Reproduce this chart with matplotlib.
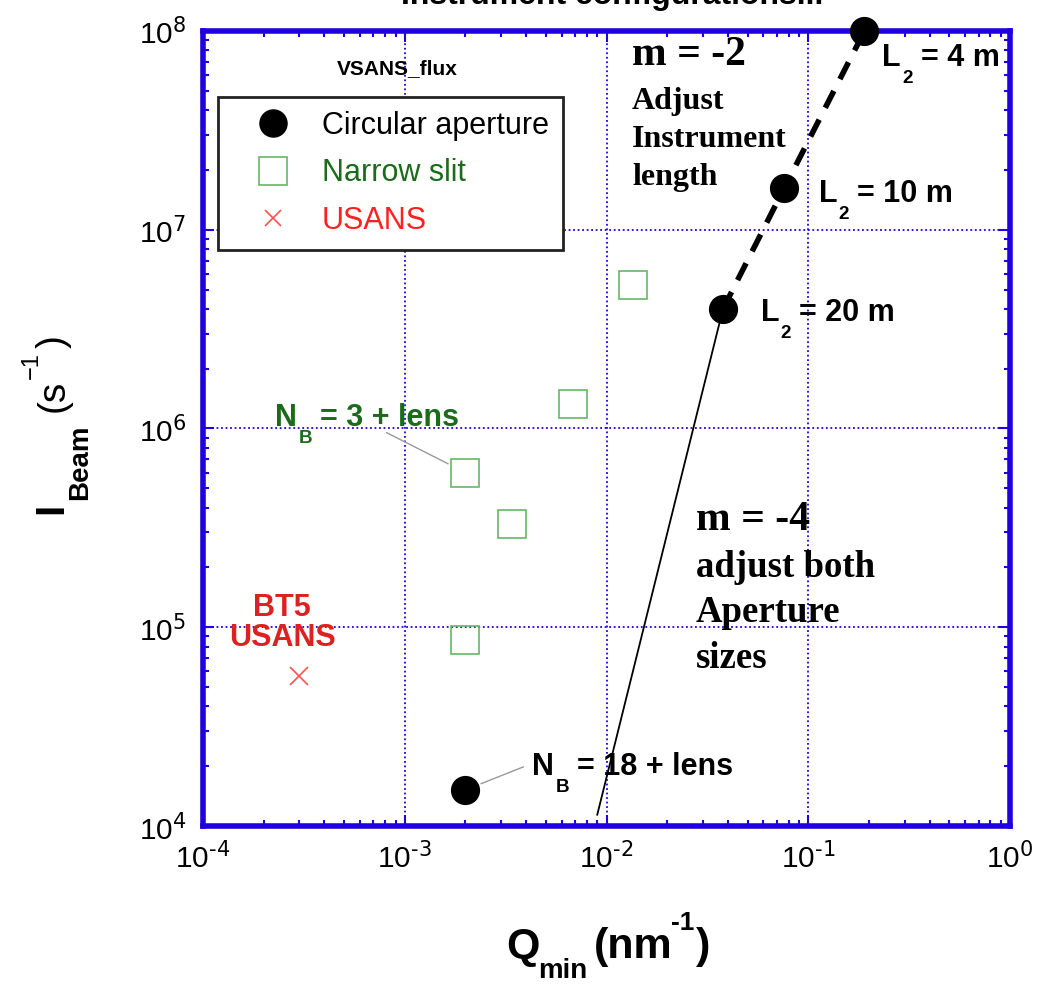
import math
import matplotlib
matplotlib.use("Agg")
import matplotlib.pyplot as plt
from matplotlib.lines import Line2D
from matplotlib.ticker import LogLocator, NullFormatter, FuncFormatter

plt.rcParams['font.family'] = ['Liberation Sans', 'DejaVu Sans']
plt.rcParams['mathtext.default'] = 'regular'

# circular aperture points (Q_min in nm^-1, I_beam in s^-1)
circ_q = [0.19, 0.076, 0.0378, 0.002]
circ_i = [1.0e8, 1.62e7, 4.0e6, 1.52e4]
# narrow slit points
slit_q = [0.0135, 0.0068, 0.002, 0.0034, 0.002]
slit_i = [5.3e6, 1.33e6, 6.0e5, 3.3e5, 8.6e4]
# USANS point
usans_q = [3.0e-4]
usans_i = [5.7e4]
# m = -2 guide (dashed) and m = -4 guide (solid)
m2_q = [0.0378, 0.076, 0.19]
m2_i = [4.0e6, 1.62e7, 1.0e8]
m4_q = [0.0378, 0.009]
m4_i = [4.0e6, 1.14e4]

BLUE = '#1f00e0'
GREEN = '#1a6b1a'
W, H = 1037, 988

fig = plt.figure(figsize=(W / 100, H / 100), dpi=100)
ax = fig.add_axes([203 / W, 1 - 826 / H, 807 / W, 795 / H])

ax.set_xscale('log')
ax.set_yscale('log')
ax.set_xlim(1e-4, 1)
ax.set_ylim(1e4, 1e8)

ax.grid(True, which='major', color=BLUE, linestyle=(0, (1, 1.5)), linewidth=1.3)

# guide lines
ax.plot(m4_q, m4_i, color='black', linewidth=1.3, zorder=3)
ax.plot(m2_q, m2_i, color='black', linewidth=4, linestyle=(0, (3.4, 2.4)), zorder=3)

ax.plot(slit_q, slit_i, linestyle='none', marker='s', markersize=19.5,
        markerfacecolor='none', markeredgecolor='#66b866', markeredgewidth=1.2, zorder=4)
ax.plot(usans_q, usans_i, linestyle='none', marker='x', markersize=13,
        color='#ff5050', markeredgewidth=1.2, zorder=4)
ax.plot(circ_q, circ_i, linestyle='none', marker='o', markersize=20,
        color='black', zorder=5, clip_on=False)

# spines and ticks
for sp in ax.spines.values():
    sp.set_color(BLUE)
    sp.set_linewidth(4)
ax.tick_params(which='both', direction='in', top=True, right=True, color=BLUE)
ax.tick_params(which='major', length=8, width=1.5, labelsize=21.5)
ax.tick_params(axis='x', which='major', pad=11)
ax.tick_params(axis='y', which='major', pad=12)
ax.tick_params(which='minor', length=4, width=1.5)
ax.xaxis.set_minor_locator(LogLocator(base=10, subs=range(2, 10)))
ax.yaxis.set_minor_locator(LogLocator(base=10, subs=range(2, 10)))
ax.xaxis.set_minor_formatter(NullFormatter())
ax.yaxis.set_minor_formatter(NullFormatter())
fmt = FuncFormatter(lambda v, p: r'10$^{\text{%d}}$' % round(math.log10(v)))
ax.xaxis.set_major_formatter(fmt)
ax.yaxis.set_major_formatter(fmt)
for lab in ax.get_xticklabels() + ax.get_yticklabels():
    lab.set_family(['Liberation Sans Narrow', 'Liberation Sans'])

# legend
handles = [
    Line2D([], [], linestyle='none', marker='o', markersize=19.5, color='black'),
    Line2D([], [], linestyle='none', marker='s', markersize=19.5, markerfacecolor='none',
           markeredgecolor='#66b866', markeredgewidth=1.2),
    Line2D([], [], linestyle='none', marker='x', markersize=12, color='#ff5050',
           markeredgewidth=1.2),
]
leg = ax.legend(handles, ['Circular aperture', 'Narrow slit', 'USANS'],
                loc='upper left', bbox_to_anchor=((218 - 203) / 807, (826 - 97) / 795),
                fontsize=22, labelcolor=['black', GREEN, '#ff2020'], frameon=True,
                fancybox=False, edgecolor='#222222', framealpha=1, handletextpad=0.25,
                borderpad=0.45, labelspacing=0.58, handlelength=2.7, borderaxespad=0)
leg.get_frame().set_linewidth(2)


def ax_px(x, y):
    return (x - 203) / 807, (826 - y) / 795


# free text notes
ax.text(*ax_px(337, 74), 'VSANS_flux', transform=ax.transAxes, fontsize=15,
        fontweight='bold', ha='left', va='baseline')
ax.text(*ax_px(632, 65), 'm = -2', transform=ax.transAxes, fontsize=30,
        fontweight='bold', family='Liberation Serif', ha='left', va='baseline')
ax.text(*ax_px(632, 87), 'Adjust\nInstrument\nlength', transform=ax.transAxes,
        fontsize=23, fontweight='bold', family='Liberation Serif', ha='left',
        va='top', linespacing=1.42)
ax.text(*ax_px(696, 530), 'm = -4', transform=ax.transAxes, fontsize=30,
        fontweight='bold', family='Liberation Serif', ha='left', va='baseline')
ax.text(*ax_px(696, 550), 'adjust both\nAperture\nsizes', transform=ax.transAxes,
        fontsize=26.5, fontweight='bold', family='Liberation Serif', ha='left',
        va='top', linespacing=1.38)


def sub_label(x, y, dx, dy, main, sub, rest, size=22, color='black', drop=17):
    """Main letter + strongly dropped subscript + rest, offset (pixels) from a data point."""
    kw = dict(fontweight='bold', color=color, textcoords='offset pixels', zorder=6)
    t1 = ax.annotate(main, xy=(x, y), xytext=(dx, -dy), ha='left', va='baseline',
                     fontsize=size, annotation_clip=False, **kw)
    t2 = ax.annotate(sub, xy=(1, 0), xycoords=t1, xytext=(1, -drop + 7), ha='left',
                     va='baseline', fontsize=size * 0.62, **kw)
    ax.annotate(rest, xy=(1, 0), xycoords=(t2, t1), xytext=(8, 0), ha='left',
                va='bottom', fontsize=size, **kw)


sub_label(circ_q[0], circ_i[0], 18, 35, 'L', '2', '= 4 m')
sub_label(circ_q[1], circ_i[1], 35, 14, 'L', '2', '= 10 m')
sub_label(circ_q[2], circ_i[2], 38, 12, 'L', '2', '= 20 m')
sub_label(slit_q[2], slit_i[2], -190, -47, 'N', 'B', '= 3 + lens', color=GREEN)
sub_label(circ_q[3], circ_i[3], 67, -15, 'N', 'B', '= 18 + lens')

# leader lines
ax.annotate('', xy=(slit_q[2], slit_i[2]), xytext=(-79, 40), textcoords='offset pixels',
            arrowprops=dict(arrowstyle='-', color='#999999', lw=1, shrinkA=0, shrinkB=14))
ax.annotate('', xy=(circ_q[3], circ_i[3]), xytext=(58, 23), textcoords='offset pixels',
            arrowprops=dict(arrowstyle='-', color='#999999', lw=1, shrinkA=0, shrinkB=12))

ax.annotate('BT5\nUSANS', xy=(usans_q[0], usans_i[0]), xytext=(-17, 23),
            textcoords='offset pixels', fontsize=22, fontweight='bold',
            color='#dd2020', ha='center', va='bottom', linespacing=1.0)


def fig_px(x, y):
    return x / W, 1 - y / H


# y axis label built from pieces (rotated)
rk = dict(rotation=90, rotation_mode='anchor', ha='left', va='baseline')
fig.text(*fig_px(62, 514), 'I', fontsize=29, fontweight='bold', **rk)
fig.text(*fig_px(87, 500), 'Beam', fontsize=20, fontweight='bold', **rk)
fig.text(*fig_px(64, 412), '(s', fontsize=28, **rk)
fig.text(*fig_px(38, 379), '\u22121', fontsize=17, **rk)
fig.text(*fig_px(64, 348), ')', fontsize=28, **rk)

# x axis label built from pieces
fig.text(*fig_px(506, 958), 'Q', fontsize=31, fontweight='bold', ha='left', va='baseline')
fig.text(*fig_px(538, 978), 'min', fontsize=20, fontweight='bold', ha='left', va='baseline')
fig.text(*fig_px(594, 958), '(nm', fontsize=31, fontweight='bold', ha='left', va='baseline')
fig.text(*fig_px(671, 930), '-1', fontsize=19, fontweight='bold', ha='left', va='baseline')
fig.text(*fig_px(696, 958), ')', fontsize=31, fontweight='bold', ha='left', va='baseline')

fig.text(0.59, 1.004, 'Instrument configurations...', fontsize=23,
         fontweight='bold', ha='center', va='center')

fig.savefig('out.png', dpi=100)
